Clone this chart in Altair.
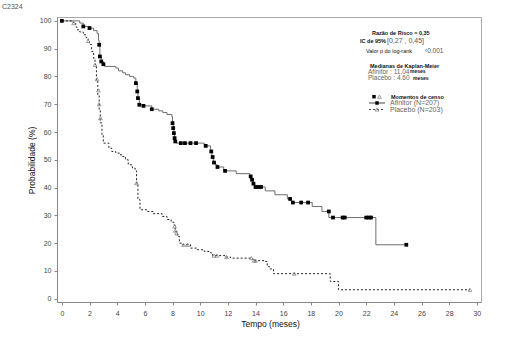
import altair as alt
import pandas as pd

# ---------------- data ----------------
afi_t = [0, 1.3, 1.55, 2.0, 2.3, 2.55, 2.65, 2.7, 2.75, 2.85, 3.0, 3.1, 3.9, 4.1, 4.4, 4.6, 4.9, 5.2,
         5.35, 5.45, 5.5, 5.6, 5.9, 6.5, 7.0, 7.3, 7.6, 7.95, 8.0, 8.05, 8.1, 8.15, 8.2, 8.3, 10.3,
         10.75, 10.85, 10.95, 11.1, 11.25, 11.7, 12.6, 13.6, 13.7, 13.8, 13.95, 14.7, 15.4, 16.3,
         16.6, 18.1, 18.8, 19.3, 22.7, 24.9]
afi_s = [100, 99.2, 98, 97.4, 96.5, 95.5, 93, 91.4, 87.2, 85.4, 84.4, 83.6, 83.0, 82.0, 81.3, 80.6, 80.0, 79.4,
         77.6, 74.6, 72.2, 69.8, 69.4, 68.2, 67.6, 67.0, 66.3, 65.6, 63.2, 61.4, 59.6, 57.8, 56.6, 56.0, 55.0,
         53.0, 51.0, 49.0, 48.2, 47.4, 46.0, 45.0, 44.0, 42.8, 41.4, 40.2, 38.8, 37.4, 35.9,
         34.6, 33.2, 31.4, 29.2, 19.4, 19.4]

afi_cens_t = [0, 1.55, 2.0, 2.7, 2.75, 2.85, 3.0, 5.35, 5.45, 5.5, 5.6, 5.9, 6.5, 8.0, 8.05, 8.1, 8.15, 8.2,
              8.6, 8.9, 9.3, 9.7, 10.4, 10.8, 10.9, 11.0, 11.25, 11.8, 13.65, 13.75, 13.85, 14.0, 14.2, 14.4,
              16.5, 16.7, 17.3, 17.8, 19.3, 19.6, 20.3, 20.45, 22.0, 22.2, 22.35, 24.9]
afi_cens_s = [100, 98, 97.4, 91.4, 87.2, 85.4, 84.4, 77.6, 74.6, 72.2, 69.8, 69.4, 68.2, 63.2, 61.4, 59.6, 57.8, 56.6,
              56.0, 56.0, 56.0, 56.0, 55.0, 53.0, 51.0, 49.0, 47.4, 46.0, 44.0, 42.8, 41.4, 40.2, 40.2, 40.2,
              35.9, 34.6, 34.6, 34.6, 31.4, 29.2, 29.2, 29.2, 29.2, 29.2, 29.2, 19.4]

pla_t = [0, 0.7, 0.85, 1.0, 1.1, 1.3, 1.55, 1.75, 1.9, 2.0, 2.15, 2.3, 2.4, 2.5, 2.6, 2.7, 2.78, 2.9, 3.0,
         3.4, 3.6, 3.9, 4.2, 4.4, 4.6, 4.8, 5.1, 5.3, 5.4, 5.5, 5.65, 6.15, 6.6, 7.25, 7.6, 7.9, 8.1, 8.2,
         8.35, 8.5, 8.7, 9.3, 9.8, 10.3, 10.75, 10.9, 11.8, 12.2, 13.8, 14.7, 14.85, 15.0, 15.3, 19.4,
         20.0, 29.5]
pla_s = [100, 99.6, 99.2, 97.8, 96.8, 96, 95, 94, 93.2, 91.5, 89, 86.5, 84.2, 78.2, 73.4, 68, 63.3, 59, 56,
         54.2, 53, 52.4, 51.8, 51.2, 50, 48.2, 47, 46, 41.6, 35.6, 32, 31.4, 30.6, 29.6, 28.5, 27.5, 26.5, 24.2,
         22.4, 20, 19.4, 18.2, 17.6, 17, 16.5, 15.5, 15, 14.6, 13.7, 13.4, 11.6, 10.7, 9.0, 6.2,
         3.2, 3.2]

pla_cens_t = [0.85, 1.9, 2.4, 2.55, 2.65, 2.7, 2.78, 5.4, 8.15, 8.2, 8.3, 8.8, 9.1, 11.0, 11.2, 11.9,
              13.7, 13.9, 14.0, 16.8, 29.5]
pla_cens_s = [99.2, 92.8, 84.2, 79, 75, 70, 65, 41.6, 26, 24.5, 23.5, 19.4, 19.4, 15.5, 15.5, 15,
              14.6, 13.7, 13.7, 9.0, 3.2]

x_ticks = list(range(0, 31, 2))
y_ticks = list(range(0, 101, 10))

FONT = "Liberation Sans"
W, H = 424, 285

afi_df = pd.DataFrame({"t": afi_t, "s": afi_s})
pla_df = pd.DataFrame({"t": pla_t, "s": pla_s})
afi_c = pd.DataFrame({"t": afi_cens_t, "s": afi_cens_s})
pla_c = pd.DataFrame({"t": pla_cens_t, "s": pla_cens_s})

xs = alt.Scale(domain=[-0.35, 30.3], nice=False, zero=False)
ys = alt.Scale(domain=[-1.2, 101.4], nice=False, zero=False)

xaxis = alt.Axis(values=x_ticks, title="Tempo (meses)", titleX=213, titleY=21,
                 titleBaseline="middle", titleFontSize=8.5, titleFontWeight="normal",
                 titleColor="#111", labelPadding=4, labelOverlap=False, tickCount=16)
yaxis = alt.Axis(values=y_ticks, title="Probabilidade (%)", titleX=-26, titleY=143,
                 titleAngle=270, titleBaseline="middle", titleAlign="center",
                 titleFontSize=8.5, titleFontWeight="normal", titleColor="#111",
                 labelPadding=3, labelOverlap=False, tickCount=11)


def X():
    return alt.X("t:Q", scale=xs, axis=xaxis)


def Y():
    return alt.Y("s:Q", scale=ys, axis=yaxis)


afi_line = alt.Chart(afi_df).mark_line(interpolate="step-after", color="#6e6e6e", strokeWidth=1).encode(x=X(), y=Y())
pla_line = alt.Chart(pla_df).mark_line(interpolate="step-after", color="#222222", strokeWidth=1,
                                       strokeDash=[2, 2]).encode(x=X(), y=Y())
afi_pts = alt.Chart(afi_c).mark_point(shape="square", filled=True, color="#000000", size=14, opacity=1).encode(x=X(), y=Y())
pla_pts = alt.Chart(pla_c).mark_point(shape="triangle-up", filled=False, color="#888888", size=14,
                                      strokeWidth=0.8, opacity=1).encode(x=X(), y=Y())


def txt(label, x, y, size=7, color="#222", weight="normal"):
    return alt.Chart(pd.DataFrame({"label": [label]})).mark_text(
        align="left", baseline="middle", font=FONT, fontSize=size, color=color, fontWeight=weight
    ).encode(x=alt.value(x), y=alt.value(y), text="label:N")


one = pd.DataFrame({"k": [0]})

texts = [
    txt("C2324", -55, -10, 7, "#555"),
    txt("Razão de Risco = 0,35", 315, 16, 5.5, "#111", "bold"),
    txt("IC de 95%", 303, 24, 5.5, "#111", "bold"),
    txt("[0,27 , 0,45]", 330, 24, 7, "#555"),
    txt("Valor p do log-rank", 309, 33.7, 5.5, "#111"),
    txt("‹0.001", 368, 33.7, 6.5, "#555"),
    txt("Medianas de Kaplan-Meier", 313, 48.7, 5.5, "#111", "bold"),
    txt("Afinitor : 11.04", 311, 55, 6.5, "#666"),
    txt("meses", 353, 53.5, 5, "#111", "bold"),
    txt("Placebo :  4.60", 311, 61, 6.5, "#666"),
    txt("meses", 356, 61, 5, "#111", "bold"),
    txt("Momentos de censo", 334, 79.7, 5.5, "#111", "bold"),
    txt("Afinitor (N=207)", 333, 86, 7, "#666"),
    txt("Placebo (N=203)", 333, 92.5, 7, "#666"),
]

leg_afi_line = alt.Chart(one).mark_rule(color="#444", strokeWidth=1).encode(
    x=alt.value(312), x2=alt.value(328), y=alt.value(86))
leg_pla_line = alt.Chart(one).mark_rule(color="#444", strokeWidth=1, strokeDash=[2, 2]).encode(
    x=alt.value(312), x2=alt.value(328), y=alt.value(92.5))
leg_sq1 = alt.Chart(one).mark_point(shape="square", filled=True, color="#000", size=12, opacity=1).encode(
    x=alt.value(317), y=alt.value(79.7))
leg_tri = alt.Chart(one).mark_point(shape="triangle-up", filled=False, color="#888", size=14, opacity=1,
                                    strokeWidth=0.8).encode(x=alt.value(322.5), y=alt.value(79.7))
leg_sq2 = alt.Chart(one).mark_point(shape="square", filled=True, color="#000", size=12, opacity=1).encode(
    x=alt.value(320), y=alt.value(86))
leg_star = alt.Chart(one).mark_point(shape="triangle-up", filled=False, color="#888", size=14, opacity=1,
                                     strokeWidth=0.8).encode(x=alt.value(320), y=alt.value(92.5))

chart = alt.layer(
    afi_line, pla_line, afi_pts, pla_pts,
    leg_afi_line, leg_pla_line, leg_sq1, leg_tri, leg_sq2, leg_star,
    *texts
).properties(
    width=W, height=H,
    autosize=alt.AutoSizeParams(type="none"),
    padding={"left": 57, "top": 17, "right": 41, "bottom": 40},
    background="white",
).configure_view(
    stroke="#aaaaaa", strokeWidth=1
).configure_axis(
    grid=False, labelFont=FONT, titleFont=FONT, labelFontSize=7, labelColor="#444",
    tickColor="#888", domainColor="#888", tickSize=3, domainWidth=1, tickWidth=1
)

chart.save("out.html", embed_options={"renderer": "svg", "actions": False})
